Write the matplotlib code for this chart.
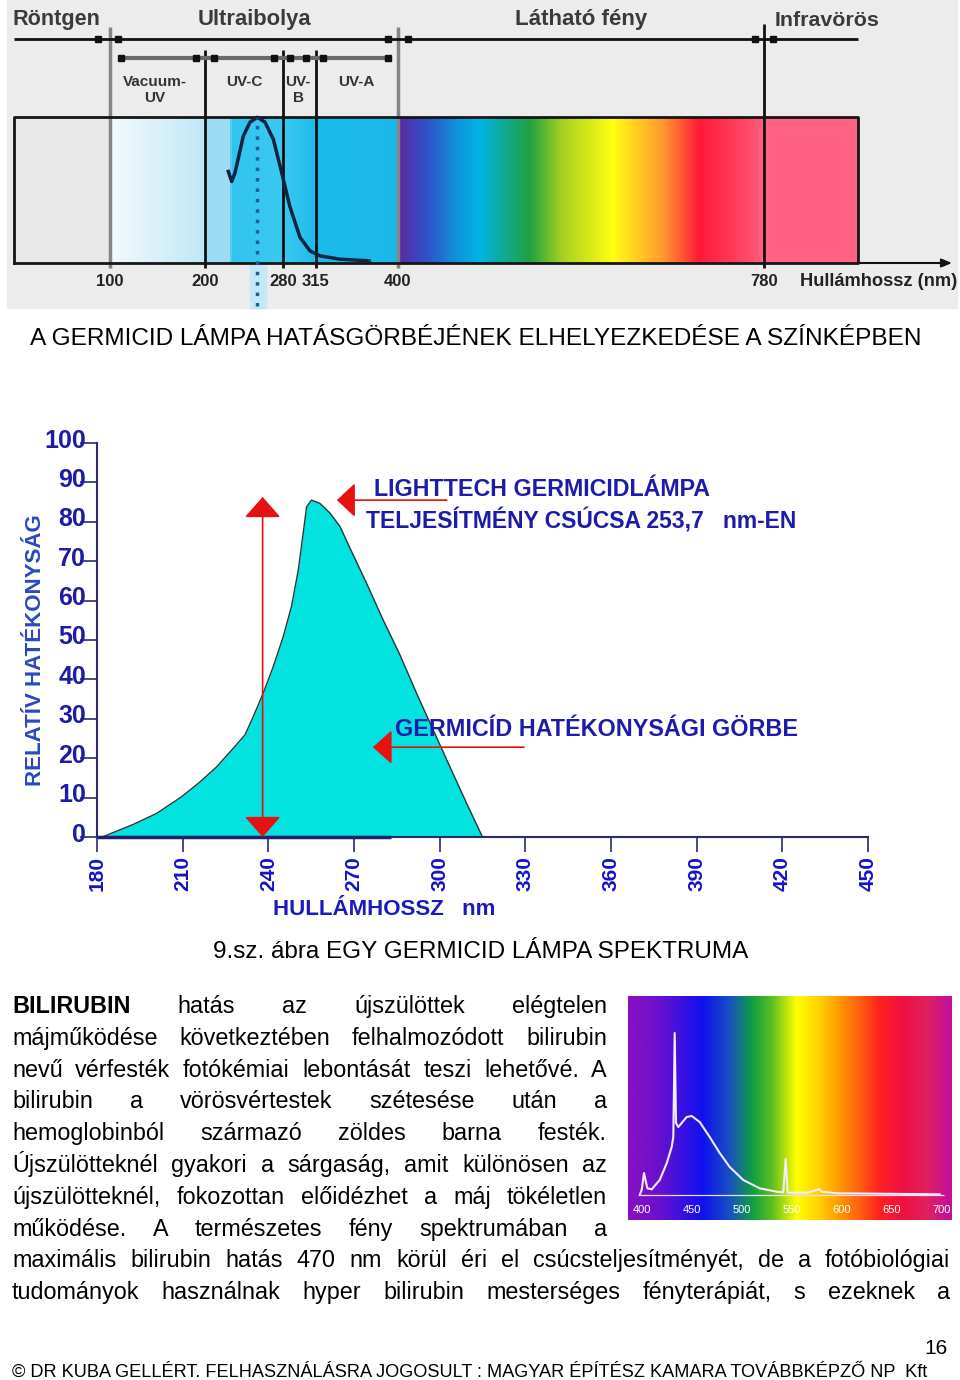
import numpy as np
import matplotlib
matplotlib.use("Agg")
import matplotlib.pyplot as plt
from matplotlib.colors import ListedColormap, to_rgb
from matplotlib.transforms import ScaledTranslation

plt.rcParams['font.family'] = ['Liberation Sans', 'DejaVu Sans']

# ---- felső ábra: tartományhatárok és feliratok
hatar_nm = [100, 200, 280, 315, 400, 780]
hatar_felirat = ['100', '200', '280', '315', '400', '780']
savok = ['Röntgen', 'Ultraibolya', 'Látható fény', 'Infravörös']
uv_savok = ['Vacuum-\nUV', 'UV-C', 'UV-\nB', 'UV-A']
# germicid lámpa görbéje a felső ábrán (nm, relatív %)
felso_nm = [223.9, 227.4, 230.8, 239.3, 246.2, 253.7, 261.5, 270.1, 278.7, 287.4, 298.0, 308.6, 319.1, 339.9, 370.0]
felso_rel = [62.7, 55.8, 61.8, 87.0, 96.5, 99.8, 96.5, 84.7, 61.8, 38.4, 17.6, 8.3, 4.9, 2.6, 1.5]
# színkép színei (nm -> szín)
felso_szin_nm = [0, 100, 101, 200, 201, 226, 227, 280, 316, 399, 401, 430, 460, 485, 537, 571, 623, 675, 713, 762, 782, 1000]
felso_szin = ['#e9e9e9', '#e9e9e9', '#f2f9fc', '#bfe7f7', '#9edcf3', '#9edcf3', '#30c4ef', '#3cc8f0', '#1abbeb', '#1ab8ea',
              '#5a2aa0', '#3050c8', '#1090d8', '#00b4e4', '#20a040', '#a8d020', '#ffff10', '#ff9830', '#ff1838',
              '#ff4868', '#ff6282', '#ff6282']

# ---- fő diagram: germicid hatékonysági görbe
hullam = [182.2, 192.7, 200.9, 209.6, 216.1, 221.9, 227.7, 231.8, 234.7, 238.2, 241.7, 245.2, 248.1, 250.5,
          252.2, 253.4, 255.1, 258.0, 261.6, 265.1, 268.6, 274.4, 280.2, 286.1, 291.9, 297.7, 303.6, 309.4, 314.8]
hatekony = [0.1, 3.2, 6.0, 10.2, 14.0, 17.8, 22.5, 25.9, 30.5, 36.5, 43.2, 50.8, 58.5, 67.8,
            77.1, 83.8, 85.5, 84.7, 82.2, 78.8, 73.3, 64.4, 55.1, 46.2, 36.5, 27.2, 17.8, 8.6, 0.3]
x_ertek = [180, 210, 240, 270, 300, 330, 360, 390, 420, 450]
y_ertek = [0, 10, 20, 30, 40, 50, 60, 70, 80, 90, 100]
csucs_nm = 253.7

# ---- kis színkép (lámpa emisszió)
spek_nm = [398, 400, 402.3, 405.6, 410, 418, 425, 430, 431.6, 433, 434.3, 436.6, 445, 450, 458, 468, 478, 488,
           501.6, 518, 535, 541.6, 544, 546, 565, 575, 577.3, 580, 595, 698]
spek_int = [0, 5, 22, 6.7, 5.7, 15, 31.7, 48, 58, 162, 72, 68, 78, 79, 73, 58, 42, 28,
            15, 6.7, 3.3, 2.7, 36, 2.3, 2.3, 5, 6, 3.3, 1.7, 0.7]
spek_tick = [400, 450, 500, 550, 600, 650, 700]
spek_szin_nm = [386, 418, 461, 488, 511, 531, 555, 578, 595, 618, 638, 661, 685, 711]
spek_szin = ['#8a10c0', '#6810d0', '#1010f0', '#1850c0', '#10a040', '#60c020', '#ffff00', '#ffd000',
             '#ffa000', '#ff6010', '#ff2020', '#f01040', '#e02060', '#c010a0']

# ---- szövegek
cim1 = 'A GERMICID LÁMPA HATÁSGÖRBÉJÉNEK ELHELYEZKEDÉSE A SZÍNKÉPBEN'
cim2 = '9.sz. ábra EGY GERMICID LÁMPA SPEKTRUMA'
bekezdes = [
    'BILIRUBIN hatás az újszülöttek elégtelen',
    'májműködése következtében felhalmozódott bilirubin',
    'nevű vérfesték fotókémiai lebontását teszi lehetővé. A',
    'bilirubin a vörösvértestek szétesése után a',
    'hemoglobinból származó zöldes barna festék.',
    'Újszülötteknél gyakori a sárgaság, amit különösen az',
    'újszülötteknél, fokozottan előidézhet a máj tökéletlen',
    'működése. A természetes fény spektrumában a',
    'maximális bilirubin hatás 470 nm körül éri el csúcsteljesítményét, de a fotóbiológiai',
    'tudományok  használnak hyper bilirubin mesterséges fényterápiát, s ezeknek a',
]
labjegyzet = '© DR KUBA GELLÉRT. FELHASZNÁLÁSRA JOGOSULT : MAGYAR ÉPÍTÉSZ KAMARA TOVÁBBKÉPZŐ NP  Kft'
oldalszam = '16'

W, H = 960, 1380
fig = plt.figure(figsize=(W / 100, H / 100), dpi=100)
r = fig.canvas.get_renderer()


def illeszt(t, szel):
    w = t.get_window_extent(r).width
    t.set_fontsize(t.get_fontsize() * szel / w)


# oldal (pixel koordináták)
page = fig.add_axes([0, 0, 1, 1])
page.set_xlim(0, W)
page.set_ylim(H, 0)
page.axis('off')

# ================= felső ábra =================
WL_A = np.array([-100, 100, 200, 280, 315, 400, 780, 1500.])
PX_A = np.array([-100, 110, 205, 283, 316, 398, 764, 1100.])


def fwd(w):
    return np.interp(w, WL_A, PX_A)


def inv(p):
    return np.interp(p, PX_A, WL_A)


BOX_BOT, PXU = 263.0, 1.46


def yu(py):
    return (BOX_BOT - py) / PXU


top = fig.add_axes([0, (H - 310) / H, 1, 310 / H])
top.set_xscale('function', functions=(fwd, inv))
top.set_xlim(inv(0), inv(960))
top.set_ylim(yu(310), yu(0))
top.axis('off')
top.add_patch(plt.Rectangle((7 / 960, 2 / 310), 950 / 960, 308 / 310, transform=top.transAxes,
                            color='#ececec', zorder=0))

ex_nm = inv(np.arange(14, 859, 2.0))
kozep = 0.5 * (ex_nm[:-1] + ex_nm[1:])
st_rgb = np.array([to_rgb(c) for c in felso_szin])
rgb = np.column_stack([np.interp(kozep, felso_szin_nm, st_rgb[:, i]) for i in range(3)])
top.pcolormesh(ex_nm, [0, 100], np.arange(len(kozep))[None, :], cmap=ListedColormap(rgb),
               shading='flat', zorder=1)

top.fill_betweenx([yu(308), yu(265)], inv(250), inv(266), color='#c4e8f8', zorder=1)
top.vlines([100, 400], yu(268), yu(27), color='#858585', lw=2.5, zorder=3)
top.vlines([200, 280, 315], yu(268), yu(50), color='#111111', lw=2, zorder=3)
top.vlines(780, yu(268), yu(24), color='#111111', lw=2, zorder=3)
top.plot([inv(14), inv(858), inv(858), inv(14), inv(14)], [0, 0, 100, 100, 0], color='#161616', lw=2, zorder=4)
top.hlines(yu(39), inv(14), inv(858), color='#111111', lw=2, zorder=3)
top.plot(inv(np.array([98, 118, 388, 408, 755, 773])), [yu(39)] * 6, 's', ms=4, color='#111111', zorder=4)
top.hlines(yu(58), inv(118), inv(390), color='#6a6a6a', lw=3, zorder=3)
top.plot(inv(np.array([121, 196, 214, 274, 290, 306, 323, 388])), [yu(58)] * 8, 's', ms=4, color='#111111', zorder=4)
top.annotate('', xy=(inv(952), 0), xytext=(inv(858), 0),
             arrowprops=dict(arrowstyle='-|>,head_length=0.6,head_width=0.25', color='#111111', lw=1.5,
                             shrinkA=0, shrinkB=0, mutation_scale=10))
top.plot(felso_nm, felso_rel, color='#0f2440', lw=2.5, zorder=5)
top.vlines(csucs_nm, yu(306), 99, colors='#1b5f9e', linestyles=(0, (1, 2)), lw=2.5, zorder=6)

for txt, cx, szel, ha in zip(savok, [12, 254, 581, 827], [88, 114, 133, 105], ['left', 'center', 'center', 'center']):
    t = top.text(inv(cx), yu(20), txt, ha=ha, va='center', fontsize=14, fontweight='bold', color='#3a3a3a')
    illeszt(t, szel)
for txt, cx in zip(uv_savok, [155, 244, 298, 356]):
    top.text(inv(cx), yu(75), txt, ha='center', va='top', fontsize=11, fontweight='bold', color='#333333',
             linespacing=1.2)
for w, lab in zip(hatar_nm, hatar_felirat):
    top.text(w, yu(281), lab, ha='center', va='center', fontsize=12, fontweight='bold', color='#222222')
t = top.text(inv(800), yu(281), 'Hullámhossz (nm)', ha='left', va='center', fontsize=12, fontweight='bold',
             color='#222222')
illeszt(t, 156)

# ================= címek, szöveg =================
t = page.text(476, 339, cim1, ha='center', va='center', fontsize=17, color='black')
illeszt(t, 892)
t = page.text(480.5, 952, cim2, ha='center', va='center', fontsize=17, color='black')
illeszt(t, 535)

alap = [1013 + 31.8 * i for i in range(len(bekezdes))]
for i, (sor, y) in enumerate(zip(bekezdes, alap)):
    szavak = sor.split()
    x1 = 607 if i < 8 else 950
    objs = []
    for j, sz in enumerate(szavak):
        fw = 'bold' if (i == 0 and j == 0) else 'normal'
        objs.append(page.text(12, y, sz, fontsize=16.8, fontweight=fw, va='baseline', ha='left'))
    sz_w = [o.get_window_extent(r).width for o in objs]
    gap = (x1 - 12 - sum(sz_w)) / (len(objs) - 1)
    x = 12
    for o, wdt in zip(objs, sz_w):
        o.set_x(x)
        x += wdt + gap

page.text(948, 1348, oldalszam, ha='right', va='center', fontsize=15,
          family=['Liberation Sans Narrow', 'Liberation Sans', 'DejaVu Sans'])
t = page.text(12, 1372, labjegyzet, ha='left', va='center', fontsize=14,
              family=['Liberation Sans Narrow', 'Liberation Sans', 'DejaVu Sans'])
illeszt(t, 920)

# ================= fő diagram =================
ax = fig.add_axes([97 / W, (H - 837) / H, 771 / W, 394 / H])
ax.set_facecolor('none')
ax.fill_between(hullam, hatekony, color='#02e3df', lw=0, zorder=2)
ax.plot(hullam, hatekony, color='#1f3a3a', lw=1, zorder=3)
ax.hlines(0, 180, 283, color='#202070', lw=2.5, zorder=4, clip_on=False)
ax.set_xlim(180, 450)
ax.set_ylim(0, 100)
ax.set_xticks(x_ertek)
ax.set_xticklabels([str(v) for v in x_ertek], fontweight='bold', rotation=90)
ax.set_yticks(y_ertek)
ax.set_yticklabels([str(v) for v in y_ertek], fontweight='bold')
for s in ['top', 'right']:
    ax.spines[s].set_visible(False)
for s in ['left', 'bottom']:
    ax.spines[s].set_color('#2a2a70')
    ax.spines[s].set_linewidth(1.5)
ax.tick_params(axis='y', direction='out', length=12, width=1.2, color='#2a2a70', pad=-4,
               labelsize=18, labelcolor='#1c1ca6')
ax.tick_params(axis='x', direction='out', length=11, width=1.2, color='#2a2a70', pad=3,
               labelsize=15, labelcolor='#1414c8')
fel = ScaledTranslation(0, 0.05, fig.dpi_scale_trans)
for lab in ax.get_yticklabels():
    lab.set_transform(lab.get_transform() + fel)
ax.set_ylabel('RELATÍV HATÉKONYSÁG', fontsize=16, fontweight='bold', color='#2a48c0', va='center')
ax.yaxis.set_label_coords(-0.0804, 0.4746)
ax.set_xlabel('HULLÁMHOSSZ   nm', fontsize=16, fontweight='bold', color='#1a1ac0', va='center',
              family=['Liberation Sans Narrow', 'Liberation Sans', 'DejaVu Sans'])
ax.xaxis.set_label_coords(0.372, -0.185)

piros = '#e81010'
ax.annotate('', xy=(238, 0), xytext=(238, 86.3),
            arrowprops=dict(arrowstyle='<|-|>,head_length=1.3,head_width=1.15', color=piros, lw=1.2,
                            shrinkA=0, shrinkB=0, mutation_scale=10), zorder=5)
ax.annotate('', xy=(264.0, 85.5), xytext=(302.5, 85.5),
            arrowprops=dict(arrowstyle='-|>,head_length=1.15,head_width=1.08', color=piros, lw=1.2,
                            shrinkA=0, shrinkB=0, mutation_scale=10), zorder=5)
ax.annotate('', xy=(276.6, 22.8), xytext=(329.5, 22.8),
            arrowprops=dict(arrowstyle='-|>,head_length=1.2,head_width=1.08', color=piros, lw=1.2,
                            shrinkA=0, shrinkB=0, mutation_scale=10), zorder=5)
kek = '#1c1caa'
t = ax.text(277, 88.3, 'LIGHTTECH GERMICIDLÁMPA', ha='left', va='center', fontsize=15, fontweight='bold', color=kek)
illeszt(t, 337)
t = ax.text(274.2, 80.2, 'TELJESÍTMÉNY CSÚCSA 253,7   nm-EN', ha='left', va='center', fontsize=15,
            fontweight='bold', color=kek)
illeszt(t, 432)
t = ax.text(284.3, 27.4, 'GERMICÍD HATÉKONYSÁGI GÖRBE', ha='left', va='center', fontsize=15,
            fontweight='bold', color=kek)
illeszt(t, 402)

# ================= kis színkép =================
ins = fig.add_axes([628 / W, (H - 1220) / H, 324 / W, 224 / H])
ins.set_xlim(386.3, 710.3)
ins.set_ylim(-25, 199)
ins.axis('off')
gx = np.linspace(386.3, 710.3, 400)
s_rgb = np.array([to_rgb(c) for c in spek_szin])
grad = np.column_stack([np.interp(gx, spek_szin_nm, s_rgb[:, i]) for i in range(3)])[None, :, :]
ins.imshow(grad, extent=(386.3, 710.3, -25, 199), aspect='auto', zorder=0)
ins.hlines(0, 398, 702, color='#eadcf5', lw=0.9, zorder=1)
ins.plot(spek_nm, spek_int, color='#f6eaff', lw=1.5, zorder=2)
for v in spek_tick:
    ins.text(v, -15, str(v), ha='center', va='center', fontsize=8, color='white')

fig.savefig('out.png', dpi=100)
